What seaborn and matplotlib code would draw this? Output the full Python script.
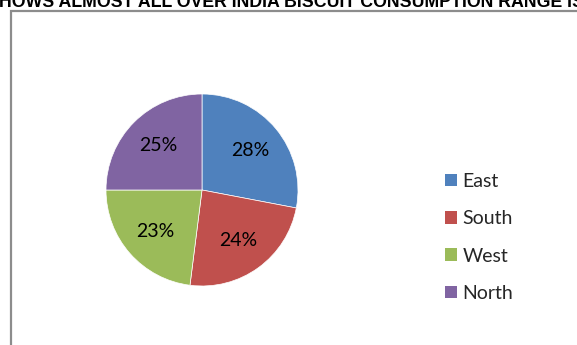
import matplotlib
matplotlib.use("Agg")
import matplotlib.pyplot as plt
from matplotlib.patches import Patch, Rectangle
import seaborn as sns

regions = ["East", "South", "West", "North"]
shares = [28, 24, 23, 25]
colors = ["#4F81BD", "#C0504D", "#9BBB59", "#8064A2"]
title = "SHOWS ALMOST ALL OVER INDIA BISCUIT CONSUMPTION RANGE IS"

sns.set_theme(style="white")
sns.set_palette(colors)
plt.rcParams["font.family"] = ["Lato", "DejaVu Sans"]

W, H = 577, 345
fig = plt.figure(figsize=(W / 100, H / 100), dpi=100)
fig.patch.set_facecolor("white")

# chart frame (runs off the right and bottom edges)
fig.add_artist(Rectangle((10.5 / W, -0.1), 1.2, 1.1 - 10.5 / H,
                         transform=fig.transFigure, fill=False,
                         edgecolor="#8c8c8c", linewidth=1.6))

# heading, partly above the top edge
fig.text(-13 / W, 1 - 7 / H, title, ha="left", va="baseline",
         fontsize=12.8, fontweight="bold", family="Liberation Sans", color="black")

cx, cy, r = 202, 190, 96
ax = fig.add_axes([(cx - r) / W, (H - cy - r) / H, 2 * r / W, 2 * r / H])
wedges, _, autotexts = ax.pie(
    shares, colors=sns.color_palette(colors), startangle=90, counterclock=False,
    autopct="%d%%", pctdistance=0.65, radius=1,
    wedgeprops=dict(edgecolor="white", linewidth=0.5),
    textprops=dict(fontsize=14, color="black"))
ax.set_xlim(-1, 1)
ax.set_ylim(-1, 1)
ax.axis("off")

handles = [Patch(facecolor=c, edgecolor="none") for c in colors]
fig.legend(handles, regions, loc="upper left",
           bbox_to_anchor=(437 / W, 1 - 165 / H), frameon=False,
           fontsize=14, handlelength=0.62, handleheight=0.62,
           handletextpad=0.3, labelspacing=1.05, borderaxespad=0)

fig.savefig("out.png", dpi=100, facecolor="white")
